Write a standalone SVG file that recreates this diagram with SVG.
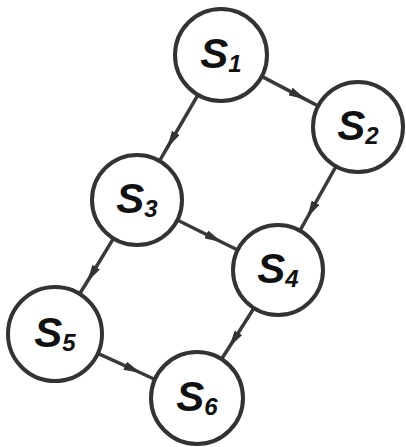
<svg xmlns="http://www.w3.org/2000/svg" width="406" height="447" viewBox="0 0 406 447">
<defs>
<style>
.node circle{fill:#fff;stroke:#333;stroke-width:4}
.node text{font-family:"Liberation Sans","DejaVu Sans",sans-serif;font-weight:bold;font-style:italic;font-size:42px;fill:#111;text-anchor:middle}
.node tspan.sub{font-size:24px}
.edge{fill:none;stroke:#3a3a3a;stroke-width:3.5;marker-mid:url(#ah)}
</style>
<marker id="ah" viewBox="0 0 10 5" refX="10" refY="2.5" markerWidth="5" markerHeight="2.5" orient="auto" markerUnits="strokeWidth">
<path d="M0,0 L10,2.5 L0,5 Z" fill="#333"/>
</marker>
</defs>
<rect width="406" height="447" fill="#fff"/>
<g id="edges">
<path class="edge" d="M261.7,76.4 L306,99.6 L318.2,106"/>
<path class="edge" d="M198,94.8 L167,148 L159.5,161"/>
<path class="edge" d="M336,166.3 L307,218 L300,230.7"/>
<path class="edge" d="M177.3,220 L222,242.2 L237.7,250"/>
<path class="edge" d="M113.5,238.4 L87,282 L79.5,294"/>
<path class="edge" d="M254,308 L229,347.5 L221.6,359"/>
<path class="edge" d="M97.8,353.3 L141,373 L155,379.5"/>
</g>
<g id="S1" class="node"><circle cx="221" cy="55" r="46"/><text x="221" y="68">S<tspan class="sub" dy="4">1</tspan></text></g>
<g id="S2" class="node"><circle cx="358" cy="127" r="45"/><text x="358" y="140">S<tspan class="sub" dy="4">2</tspan></text></g>
<g id="S3" class="node"><circle cx="137" cy="200" r="45"/><text x="137" y="213">S<tspan class="sub" dy="4">3</tspan></text></g>
<g id="S4" class="node"><circle cx="278" cy="270" r="45"/><text x="278" y="283">S<tspan class="sub" dy="4">4</tspan></text></g>
<g id="S5" class="node"><circle cx="55" cy="334" r="47"/><text x="55" y="347">S<tspan class="sub" dy="4">5</tspan></text></g>
<g id="S6" class="node"><circle cx="197" cy="398" r="46"/><text x="197" y="411">S<tspan class="sub" dy="4">6</tspan></text></g>
</svg>
